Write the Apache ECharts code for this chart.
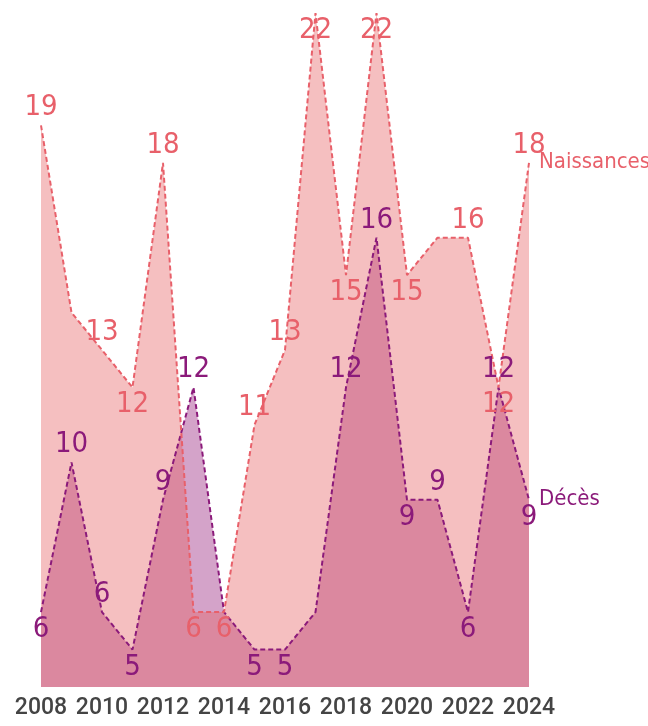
<!DOCTYPE html>
<html>
<head>
<meta charset="utf-8">
<script src="https://cdn.jsdelivr.net/npm/echarts@6/dist/echarts.min.js"></script>
<style>
  html, body { margin: 0; padding: 0; background: #fff; }
  #chart { width: 648px; height: 726px; }
</style>
</head>
<body>
<div id="chart"></div>
<script>
// données
const years = ['2008', '2009', '2010', '2011', '2012', '2013', '2014', '2015', '2016',
  '2017', '2018', '2019', '2020', '2021', '2022', '2023', '2024'];
const naissances = [19, 14, 13, 12, 18, 6, 6, 11, 13, 22, 15, 22, 15, 16, 16, 12, 18];
const deces = [6, 10, 6, 5, 9, 12, 6, 5, 5, 6, 12, 16, 9, 9, 6, 12, 9];
// années sans étiquette dans l'original
const naissancesNoLabel = ['2009', '2021'];
const decesNoLabel = ['2014', '2017'];

const yMin = 4;
const yMax = 22;

const narrowFont = '"Liberation Sans Narrow", "DejaVu Sans Condensed", sans-serif';
const colNaiss = '#e8606a';
const colDeces = '#8b1a7a';

// étiquette en dessous pour les creux et les pics qui touchent le haut
function withLabels(values, hidden, color) {
  return values.map((v, i) => {
    const prev = i > 0 ? values[i - 1] : Infinity;
    const next = i < values.length - 1 ? values[i + 1] : Infinity;
    const below = (v <= prev && v <= next) || v >= yMax;
    return {
      value: v,
      label: {
        show: hidden.indexOf(years[i]) < 0,
        position: below ? 'bottom' : 'top',
        distance: 3,
        color: color,
        fontFamily: narrowFont,
        fontSize: 29
      }
    };
  });
}

function areaSeries(values, color) {
  return {
    type: 'line',
    data: values,
    symbol: 'none',
    silent: true,
    lineStyle: { width: 0 },
    areaStyle: { color: color, opacity: 0.4, origin: 'start' }
  };
}

function lineSeries(name, values, hidden, color) {
  return {
    type: 'line',
    name: name,
    data: withLabels(values, hidden, color),
    symbol: 'circle',
    symbolSize: 0.01,
    itemStyle: { color: color },
    lineStyle: { color: color, width: 2, type: [5, 3] },
    endLabel: {
      show: true,
      formatter: name,
      color: color,
      fontFamily: narrowFont,
      fontSize: 22,
      distance: 10
    },
    z: 3
  };
}

const chart = echarts.init(document.getElementById('chart'));
chart.setOption({
  animation: false,
  grid: { left: 41, right: 119, top: 13, bottom: 39, outerBoundsMode: 'none' },
  xAxis: {
    type: 'category',
    data: years,
    boundaryGap: false,
    axisLine: { show: false },
    axisTick: { show: false },
    splitLine: { show: false },
    axisLabel: {
      interval: 1,
      color: '#444',
      fontFamily: 'Roboto, sans-serif',
      fontWeight: 500,
      fontSize: 23,
      margin: 10
    }
  },
  yAxis: {
    type: 'value',
    min: yMin,
    max: yMax,
    show: false
  },
  series: [
    areaSeries(deces, '#931978'),
    areaSeries(naissances, '#e65f61'),
    lineSeries('Décès', deces, decesNoLabel, colDeces),
    lineSeries('Naissances', naissances, naissancesNoLabel, colNaiss)
  ]
});
</script>
</body>
</html>
